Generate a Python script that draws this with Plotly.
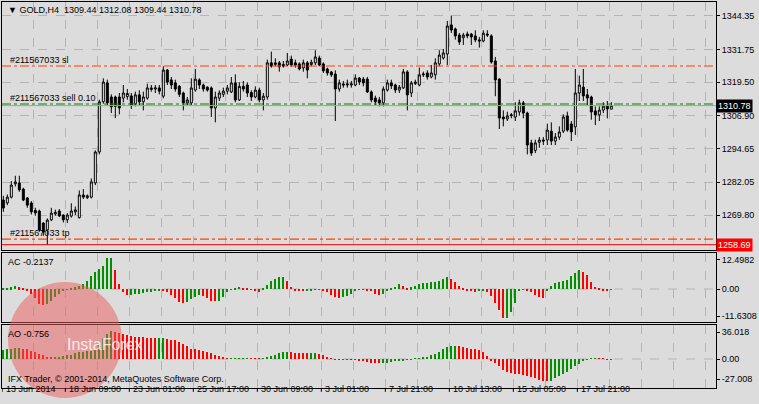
import plotly.graph_objects as go

# ---- data (GOLD, H4) ----
opens = [
    1275.4, 1274.3, 1276.5, 1281.5, 1281.8, 1279.5, 1276.2, 1274.3, 1271.5, 1271.3,
    1266.8, 1264.2, 1268.0, 1270.2, 1271.3, 1269.8, 1268.0, 1269.4, 1271.0, 1268.8,
    1277.3, 1276.3, 1276.5, 1281.8, 1293.4, 1312.2, 1319.3, 1314.0, 1314.0, 1314.0,
    1313.6, 1314.2, 1314.4, 1311.4, 1314.8, 1312.2, 1313.6, 1316.8, 1317.0, 1317.4,
    1314.3, 1324.1, 1320.4, 1319.3, 1318.0, 1315.5, 1311.8, 1311.8, 1316.6, 1320.4,
    1318.5, 1317.7, 1317.4, 1309.9, 1313.6, 1315.0, 1316.2, 1315.9, 1319.3, 1312.9,
    1318.0, 1318.5, 1315.7, 1314.0, 1316.6, 1312.9, 1314.0, 1326.8, 1326.2, 1326.8,
    1326.2, 1326.0, 1328.2, 1326.8, 1326.4, 1324.9, 1326.8, 1326.2, 1326.8, 1328.6,
    1326.4, 1324.5, 1323.4, 1322.6, 1317.0, 1318.9, 1318.5, 1318.5, 1318.5, 1321.1,
    1320.7, 1320.7, 1315.9, 1313.6, 1312.9, 1311.8, 1316.6, 1319.3, 1318.5, 1316.6,
    1317.4, 1323.4, 1315.5, 1319.0, 1318.5, 1322.3, 1323.0, 1321.5, 1322.3, 1326.4,
    1328.6, 1330.1, 1341.0, 1339.5, 1337.2, 1336.2, 1337.6, 1337.6, 1336.9, 1335.4,
    1335.0, 1337.6, 1336.9, 1327.5, 1320.7, 1306.5, 1305.8, 1307.0, 1306.5, 1308.4,
    1311.8, 1308.0, 1296.8, 1294.0, 1297.0, 1297.9, 1297.9, 1301.2, 1297.5, 1299.0,
    1301.2, 1306.9, 1303.9, 1302.8, 1315.5, 1317.7, 1314.8, 1314.0, 1308.8, 1307.3,
    1309.1, 1310.8, 1309.44,
]
highs = [
    1277, 1277.5, 1282.5, 1284.5, 1284.5, 1280, 1276.5, 1275, 1272.5, 1271.8,
    1267, 1268.5, 1272.5, 1271.8, 1272, 1270, 1270.5, 1274.2, 1273, 1279,
    1279.5, 1277.5, 1283.5, 1294, 1313, 1321, 1320.5, 1315, 1314.5, 1315.5,
    1318.5, 1317, 1315.5, 1316, 1316.5, 1316, 1319, 1318.5, 1318.5, 1318.5,
    1325.5, 1324.5, 1321.5, 1320.5, 1318.5, 1316, 1314, 1321, 1324.5, 1321,
    1319, 1318, 1318, 1316, 1316.5, 1317.5, 1318.5, 1321.5, 1322.5, 1319.5,
    1320, 1319.5, 1316.5, 1318, 1317.5, 1315.5, 1328, 1331, 1328.5, 1327.5,
    1327.5, 1330.5, 1329.5, 1328, 1327, 1328, 1327.5, 1328, 1331.5, 1329.5,
    1327, 1325, 1323.8, 1324, 1320.5, 1320, 1320.5, 1320, 1322.5, 1321.5,
    1321.5, 1321.5, 1316.5, 1314.5, 1314, 1318, 1320.5, 1320.5, 1319, 1318.5,
    1324.5, 1324, 1320, 1320.5, 1325, 1323.5, 1324, 1326, 1328.5, 1331.5,
    1332, 1342.5, 1344.5, 1340, 1338, 1338, 1338.5, 1338, 1339, 1336.5,
    1339, 1339, 1337.5, 1329, 1321, 1309, 1308.5, 1308, 1312, 1313,
    1312.5, 1308.5, 1298, 1298, 1299, 1299, 1304, 1304.5, 1300.5, 1303,
    1307.5, 1308.5, 1305, 1324.5, 1322, 1324.5, 1317, 1314.5, 1310.5, 1310.5,
    1312, 1312.5, 1312.08,
]
lows = [
    1271, 1273.5, 1276, 1280.5, 1278.5, 1275, 1272.5, 1270, 1269.5, 1263.5,
    1262, 1258.6, 1267.5, 1269.5, 1269, 1267, 1266.8, 1268.8, 1269.8, 1268.5,
    1275.8, 1275.8, 1276, 1281, 1292.5, 1311.5, 1311, 1308, 1306.1, 1307.5,
    1312, 1313, 1309.5, 1310.5, 1311, 1309, 1313, 1316, 1315.5, 1315,
    1313.5, 1318.5, 1317, 1316, 1314, 1309, 1311, 1311, 1316, 1317,
    1316, 1316, 1306.5, 1304.5, 1312.5, 1314, 1315, 1315.5, 1312, 1312.5,
    1316, 1314, 1312.5, 1313.5, 1312, 1309, 1313, 1325, 1325.5, 1323.5,
    1325, 1325.5, 1325.3, 1325, 1324, 1323.5, 1321, 1325.5, 1326, 1325.5,
    1323, 1322, 1321.5, 1305, 1316, 1317.5, 1317.5, 1317.5, 1318, 1318.5,
    1318, 1315.5, 1312, 1311, 1310.5, 1310.5, 1316, 1317, 1315.5, 1315.5,
    1317, 1309, 1314, 1318.5, 1318, 1321.5, 1320.5, 1321, 1320.5, 1325.5,
    1328, 1326, 1338, 1335.5, 1333.5, 1333.5, 1336, 1333.5, 1334.5, 1332.5,
    1334.5, 1336.5, 1326.5, 1314.3, 1302, 1303, 1305, 1306, 1305, 1307,
    1306, 1292.5, 1292, 1293, 1295, 1296, 1296, 1296, 1296, 1298,
    1300.5, 1301, 1297.5, 1299.8, 1312.5, 1312.5, 1311, 1305.5, 1303.5, 1305,
    1308, 1306, 1309.44,
]
closes = [
    1272.4, 1276.5, 1281.0, 1282.2, 1279.2, 1275.4, 1273.5, 1271.0, 1270.6, 1264.2,
    1263.4, 1267.9, 1270.5, 1270.8, 1269.5, 1268.0, 1269.8, 1271.3, 1271.7, 1277.3,
    1276.5, 1277.0, 1282.2, 1293.4, 1312.2, 1319.6, 1311.8, 1310.3, 1310.5, 1309.9,
    1315.5, 1315.3, 1311.0, 1314.8, 1312.2, 1314.0, 1317.4, 1317.4, 1317.4, 1316.2,
    1324.1, 1319.6, 1318.5, 1317.0, 1315.0, 1311.8, 1312.9, 1317.4, 1320.7, 1318.5,
    1317.0, 1316.6, 1309.9, 1314.0, 1315.5, 1316.2, 1317.4, 1319.3, 1312.9, 1318.0,
    1317.0, 1315.5, 1314.0, 1316.6, 1312.9, 1314.3, 1326.8, 1325.6, 1326.8, 1325.3,
    1325.6, 1327.5, 1326.0, 1326.0, 1324.5, 1326.8, 1324.1, 1327.0, 1329.0, 1326.0,
    1323.8, 1323.0, 1322.3, 1317.0, 1319.3, 1318.5, 1318.9, 1318.9, 1321.1, 1319.6,
    1319.3, 1315.9, 1312.9, 1312.2, 1311.8, 1317.0, 1319.3, 1318.2, 1316.6, 1317.7,
    1323.4, 1314.8, 1319.3, 1319.6, 1322.3, 1322.6, 1321.5, 1323.0, 1326.8, 1329.7,
    1330.5, 1340.6, 1339.1, 1336.9, 1334.6, 1337.2, 1336.9, 1336.5, 1335.4, 1335.0,
    1337.9, 1337.2, 1327.1, 1320.4, 1306.1, 1305.8, 1306.9, 1307.3, 1308.8, 1311.8,
    1308.0, 1296.0, 1293.0, 1296.8, 1297.9, 1297.5, 1301.6, 1297.5, 1299.0, 1300.9,
    1306.5, 1301.6, 1300.9, 1315.5, 1318.5, 1314.4, 1313.6, 1308.4, 1307.3, 1309.1,
    1310.6, 1309.5, 1310.78,
]
ac_values = [
    0.3, 0.5, 0.8, 1.2, 0.8, 0.3, -0.5, -2, -4, -6.5,
    -7, -6.5, -5, -3.5, -2, -1, -0.3, 0.3, 0.8, 1.5,
    2, 3.5, 5.5, 7.5, 8.5, 10, 13.5, 13.5, 8, 2,
    -1.5, -2.5, -2.5, -2.2, -2, -1.8, -1.5, -1.2, -1, -0.8,
    -1, -1.5, -2.5, -4, -5.5, -6, -5.5, -4.5, -3.5, -2.5,
    -3, -4, -5, -5.2, -5, -3.5, -1.5, -0.3, 0.5, 1,
    0.5, 0.3, -0.3, -0.8, -1.3, 0.5, 1.8, 3.5, 4.5, 5,
    5.2, 3.5, 1, -0.5, -0.7, -0.8, -0.8, -0.5, -0.3, -0.2,
    -0.5, -1.5, -2.5, -3.5, -4, -3.5, -3, -2, -1, -0.3,
    -0.2, -0.5, -1, -2, -2.5, -2, -0.5, 0.3, 1, 2,
    1.5, 0.5, 0.8, 1.5, 2, 2.5, 2.8, 3, 3.2, 3.5,
    4.5, 5, 4.5, 3, 1.5, 0.5, -0.5, -1, -1.3, -1,
    -0.8, -1.2, -3, -6, -9, -12.5, -12.3, -10, -6, -1,
    -0.3, -0.5, -1.5, -2.5, -3.5, -4, -0.5, 1.5, 2.5, 3,
    3.5, 3.8, 5.5, 7, 8, 7.5, 6, 3, 1, 0.3,
    -0.5, -0.8, -0.2137,
]
ao_values = [
    12, 13, 14, 15, 15, 14, 13, 11, 9, 7,
    5, 3, 2, 2.5, 3, 4, 5, 6, 7.5, 9,
    10, 10.5, 11, 12, 20, 28, 33, 37.7, 36, 34.5,
    33, 32, 31, 30, 29.5, 29, 28.5, 28, 27.5, 27.5,
    27.5, 27, 26, 25, 23, 20, 17, 13.5, 13, 12,
    11, 9.5, 8, 6, 3.5, 1.5, 0.5, 0.5, 0.8, 1,
    1.2, 1.3, 1, 0.5, 0.4, 1, 2.5, 4, 6, 8,
    9, 9.5, 9, 8.5, 8, 7.5, 7.4, 7.5, 7.6, 7,
    6, 3, 1, -0.5, -0.8, -0.7, -0.5, -0.6, -1, -2,
    -3, -4, -5, -5.5, -6, -5.5, -5, -4, -3, -2,
    -1.5, -1, -0.5, 0.3, 0.8, 1.5, 3, 5, 7, 10,
    13, 15.5, 17, 18, 17, 16, 15, 14, 13, 12,
    9, 4, -2, -6, -10, -15, -18, -19, -19.5, -20,
    -21, -22.5, -24, -26, -28, -29.5, -30, -29, -26, -23,
    -20, -17, -13, -10, -7, -3, -1, 0.5, 0.8, 0.5,
    0.3, -0.2, -0.756,
]
bars = list(range(len(closes)))

price_ticks = [1344.35, 1331.75, 1319.50, 1306.90, 1294.65, 1282.05, 1269.80]
time_labels = ["13 Jun 2014", "18 Jun 09:00", "23 Jun 01:00", "25 Jun 17:00",
               "30 Jun 09:00", "3 Jul 01:00", "7 Jul 21:00", "10 Jul 13:00",
               "15 Jul 05:00", "17 Jul 21:00"]
time_label_bars = [-0.3, 15.5, 31.5, 47.5, 63.5, 79.5, 95.5, 111.5, 127.5, 143.5]

sl_level, sell_level, tp_level = 1325.62, 1311.39, 1260.8
bid, low_mark = 1310.78, 1258.69

BG = "#dcdcdc"
GRID = "#b4b4b4"
GREEN = "#009000"
RED = "#ff0000"
FONT = "Liberation Sans"


def hist_colors(values):
    out = []
    for i, v in enumerate(values):
        up = i == 0 or v >= values[i - 1]
        out.append(GREEN if up else RED)
    return out


# pixel helpers for the plot area (2..716 x, 2..388 y)
def px(x):
    return (x - 2) / 714


def py(y):
    return (388 - y) / 386


fig = go.Figure()
fig.add_trace(go.Candlestick(
    x=bars, open=opens, high=highs, low=lows, close=closes,
    increasing={"line": {"color": "black", "width": 1}, "fillcolor": "white"},
    decreasing={"line": {"color": "black", "width": 1}, "fillcolor": "black"},
    whiskerwidth=0, xaxis="x", yaxis="y", showlegend=False,
))
fig.add_trace(go.Bar(x=bars, y=ac_values, marker_color=hist_colors(ac_values),
                     marker_line_width=0, width=0.3, xaxis="x2", yaxis="y2",
                     showlegend=False))
fig.add_trace(go.Bar(x=bars, y=ao_values, marker_color=hist_colors(ao_values),
                     marker_line_width=0, width=0.3, xaxis="x3", yaxis="y3",
                     showlegend=False))

xr = [-0.33, 178.17]
grid_x = [7.5 + 8 * k for k in range(23)]
xcommon = dict(range=xr, showline=True, mirror=True, linecolor="black", linewidth=1,
               tickvals=grid_x, showticklabels=False, ticks="", showgrid=True,
               gridcolor=GRID, griddash="dash", gridwidth=1, zeroline=False)
ycommon = dict(side="right", showline=True, mirror=True, linecolor="black", linewidth=1,
               ticks="outside", ticklen=3, tickcolor="black", zeroline=False,
               tickfont={"size": 9, "color": "black", "family": FONT})

layout = dict(
    width=759, height=404,
    margin={"l": 2, "r": 43, "t": 2, "b": 16},
    paper_bgcolor=BG, plot_bgcolor=BG,
    bargap=0, showlegend=False,
    xaxis={**xcommon, "domain": [0, 1], "anchor": "y", "rangeslider": {"visible": False}},
    xaxis2={**xcommon, "domain": [0, 1], "anchor": "y2"},
    xaxis3={**xcommon, "domain": [0, 1], "anchor": "y3"},
    yaxis={**ycommon, "domain": [py(250), 1], "range": [1256.69, 1349.59],
           "tickvals": price_ticks, "ticktext": [f"{v:.2f}" for v in price_ticks],
           "showgrid": True, "gridcolor": GRID, "griddash": "dash"},
    yaxis2={**ycommon, "domain": [py(322), py(253)], "range": [-14.2, 15.5],
            "tickvals": [12.4982, 0, -11.6308], "ticktext": ["12.4982", "0.00", "-11.6308"],
            "showgrid": False},
    yaxis3={**ycommon, "domain": [0, py(325)], "range": [-38.9, 45.6],
            "tickvals": [36.018, 0, -27.008], "ticktext": ["36.018", "0.00", "-27.008"],
            "showgrid": False},
    font={"family": FONT, "size": 9, "color": "black"},
)
fig.update_layout(**layout)

# zero lines in the indicator panels
for yref in ("y2", "y3"):
    fig.add_shape(type="line", xref="paper", yref=yref, x0=0, x1=1, y0=0, y1=0,
                  line={"color": GRID, "width": 1, "dash": "dash"}, layer="below")

# order lines
fig.add_hline(y=sl_level, line={"color": "#ff4000", "width": 1.2, "dash": "dashdot"})
fig.add_hline(y=sell_level, line={"color": "#008000", "width": 1.2, "dash": "dashdot"})
fig.add_hline(y=tp_level, line={"color": "#ff4000", "width": 1.2, "dash": "dashdot"})
fig.add_hline(y=bid, line={"color": "#a0a0a0", "width": 1})
fig.add_hline(y=low_mark, line={"color": "#ff0000", "width": 1})

# watermark
fig.add_shape(type="circle", xref="paper", yref="paper",
              x0=px(8), x1=px(122), y0=py(398), y1=py(282),
              fillcolor="rgba(235,90,90,0.5)", line={"width": 0}, layer="above")
fig.add_annotation(x=px(65), y=py(355), xref="paper", yref="paper", text="InstaForex",
                   showarrow=False, font={"size": 16, "color": "rgba(255,255,255,0.8)"})

ann = [
    (px(6), py(10), "▼ GOLD,H4  1309.44 1312.08 1309.44 1310.78"),
    (px(8), py(60), "#211567033 sl"),
    (px(8), py(98), "#211567033 sell 0.10"),
    (px(8), py(233), "#211567033 tp"),
    (px(6), py(262), "AC -0.2137"),
    (px(6), py(334), "AO -0.756"),
    (px(6), py(379), "IFX Trader, © 2001-2014, MetaQuotes Software Corp."),
]
for x, y, t in ann:
    fig.add_annotation(x=x, y=y, xref="paper", yref="paper", text=t, showarrow=False,
                       xanchor="left", yanchor="middle", font={"size": 9})

# price boxes on the right scale
fig.add_annotation(x=1, y=bid, xref="paper", yref="y", text="1310.78", showarrow=False,
                   xanchor="left", bgcolor="black", font={"color": "white", "size": 9},
                   borderpad=1)
fig.add_annotation(x=1, y=low_mark, xref="paper", yref="y", text="1258.69", showarrow=False,
                   xanchor="left", bgcolor="#ff0000", font={"color": "white", "size": 9},
                   borderpad=1)

# time axis labels
for b, t in zip(time_label_bars, time_labels):
    fig.add_annotation(x=b, y=0, xref="x3", yref="paper", yshift=-8, xshift=2, text=t,
                       showarrow=False, xanchor="left", font={"size": 9})
    fig.add_shape(type="line", x0=b, x1=b, xref="x3", y0=0, y1=-0.01, yref="paper",
                  line={"color": "black", "width": 1})

fig.write_html("out.html", config={"displayModeBar": False},
               post_script="document.body.style.margin='0';")
